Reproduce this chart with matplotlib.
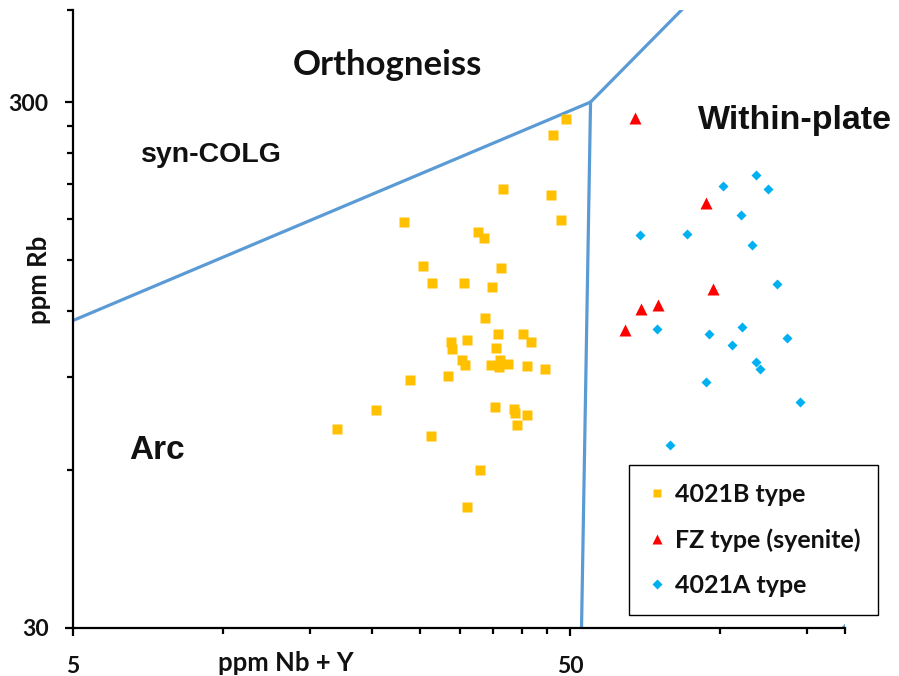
import matplotlib
matplotlib.use("Agg")
import matplotlib.pyplot as plt
from matplotlib.ticker import FixedLocator, FixedFormatter, NullFormatter

# ---------------- data (ppm Nb+Y, ppm Rb) ----------------
b_nby = [49.2, 46.2, 36.7, 45.7, 48.0, 23.2, 32.7, 33.5, 25.3, 36.3, 26.4, 30.6, 34.9,
         33.8, 35.9, 40.3, 31.0, 28.8, 41.8, 29.0, 35.5, 30.3, 30.8, 34.6, 36.2, 36.0,
         37.5, 41.0, 44.5, 28.4, 23.8, 20.4, 35.3, 38.6, 38.7, 41.0, 39.2, 17.0, 26.3,
         32.9, 31.0]
b_rb = [278.5, 259.7, 204.7, 200.0, 179.0, 177.7, 169.6, 165.4, 146.3, 145.3, 135.9, 135.9, 133.5,
        116.8, 108.7, 108.7, 105.8, 104.9, 104.8, 101.9, 102.1, 97.0, 94.9, 94.9, 97.0, 94.2,
        95.4, 94.4, 93.1, 90.3, 88.7, 78.0, 78.9, 78.2, 76.9, 76.1, 72.9, 71.8, 69.5,
        59.9, 51.0]

fz_nby = [67.6, 93.9, 97.1, 69.5, 75.2, 64.5]
fz_rb = [279.3, 192.5, 132.5, 121.4, 123.2, 110.6]

a_nby = [118.4, 101.6, 125.1, 110.3, 69.2, 86.1, 116.2, 130.3, 74.7, 95.1, 111.0, 106.1,
         136.6, 118.4, 120.6, 94.0, 145.0, 79.4]
a_rb = [218.2, 208.0, 205.3, 183.2, 167.8, 168.5, 160.2, 135.1, 110.9, 108.5, 112.1, 103.5,
        106.9, 96.3, 93.4, 88.2, 80.8, 66.8]

series_labels = ["4021B type", "FZ type (syenite)", "4021A type"]

# Pearce et al. (1984) field boundaries
bnd_syncolg_x = [2, 55]
bnd_syncolg_y = [80, 300]
bnd_org_up_x = [55, 400]
bnd_org_up_y = [300, 2000]
bnd_vag_wpg_x = [55, 51.5]
bnd_vag_wpg_y = [300, 8]
bnd_org_low_x = [51.5, 2000]
bnd_org_low_y = [8, 400]

x_major = [5, 50]
x_major_labels = ["5", "50"]
x_minor = [10, 15, 20, 25, 30, 35, 40, 45, 100, 150]
y_major = [30, 300]
y_major_labels = ["30", "300"]
y_minor = [60, 90, 120, 150, 180, 210, 240, 270]

XMIN, XMAX = 5, 178.8
YMIN, YMAX = 30, 449

# ---------------- figure ----------------
W, H = 899, 676
fig = plt.figure(figsize=(W / 100, H / 100), dpi=100)
ax = fig.add_axes([73 / W, 1 - 628 / H, (845 - 73) / W, (628 - 10) / H])
ax.set_xscale("log")
ax.set_yscale("log")
ax.set_xlim(XMIN, XMAX)
ax.set_ylim(YMIN, YMAX)

line_kw = dict(color="#5B9BD5", lw=2.3, solid_capstyle="round", zorder=2)
for bx, by in [(bnd_syncolg_x, bnd_syncolg_y), (bnd_org_up_x, bnd_org_up_y),
               (bnd_vag_wpg_x, bnd_vag_wpg_y), (bnd_org_low_x, bnd_org_low_y)]:
    ax.plot(bx, by, **line_kw)

ax.plot(b_nby, b_rb, ls="none", marker="s", ms=6.6, color="#FFC000", mec="none",
        label=series_labels[0], zorder=3)
ax.plot(fz_nby, fz_rb, ls="none", marker="^", ms=8.5, color="#FF0000", mec="none",
        label=series_labels[1], zorder=3)
ax.plot(a_nby, a_rb, ls="none", marker="D", ms=5.6, color="#00B0F0", mec="none",
        label=series_labels[2], zorder=3)

calibri = dict(family="Lato", weight="bold")
arial = dict(family="Liberation Sans", weight="bold")

# axes styling
for s in ["top", "right"]:
    ax.spines[s].set_visible(False)
for s in ["left", "bottom"]:
    ax.spines[s].set_linewidth(1.6)
    ax.spines[s].set_color("black")

ax.xaxis.set_major_locator(FixedLocator(x_major))
ax.xaxis.set_major_formatter(FixedFormatter(x_major_labels))
ax.xaxis.set_minor_locator(FixedLocator(x_minor + [XMAX]))
ax.xaxis.set_minor_formatter(NullFormatter())
ax.yaxis.set_major_locator(FixedLocator(y_major))
ax.yaxis.set_major_formatter(FixedFormatter(y_major_labels))
ax.yaxis.set_minor_locator(FixedLocator(y_minor + [YMAX]))
ax.yaxis.set_minor_formatter(NullFormatter())

ax.tick_params(which="major", direction="out", length=5.5, width=1.6, color="black")
ax.tick_params(which="minor", direction="out", length=4, width=1.6, color="black")
ax.tick_params(axis="x", which="major", pad=15)
ax.tick_params(axis="y", which="major", pad=12)
for lab in ax.get_xticklabels() + ax.get_yticklabels():
    lab.set_fontfamily("Lato")
    lab.set_fontweight("bold")
    lab.set_fontsize(16.5)
    lab.set_color("#111111")

# axis titles
fig.text(286 / W, 1 - 671 / H, "ppm Nb + Y", ha="center", va="baseline",
         fontsize=18.5, color="#111111", **calibri)
fig.text(47 / W, 1 - 280 / H, "ppm Rb", ha="center", va="baseline", rotation=90,
         fontsize=18.5, color="#111111", rotation_mode="anchor", **calibri)

# field labels
ax.text(21.5, 352.8, "Orthogneiss", ha="center", va="center", fontsize=25, color="#111111", **calibri)
ax.text(9.5, 237.9, "syn-COLG", ha="center", va="center", fontsize=20.5, color="#111111", **arial)
ax.text(141.8, 277.3, "Within-plate", ha="center", va="center", fontsize=24.5, color="#111111",
        clip_on=False, **arial)
ax.text(7.38, 65.4, "Arc", ha="center", va="center", fontsize=24, color="#111111", **arial)

leg = ax.legend(loc="upper left", bbox_to_anchor=(629 / W, 1 - 465 / H),
                bbox_transform=fig.transFigure, frameon=True, fancybox=False,
                prop=dict(family="Lato", weight="bold", size=18),
                handlelength=0.8, handletextpad=0.35, borderpad=0.7,
                labelspacing=0.9, borderaxespad=0, markerscale=0.85)
leg.get_frame().set_edgecolor("black")
leg.get_frame().set_linewidth(1.0)
leg.get_frame().set_facecolor("white")
leg.get_frame().set_alpha(1)
for t in leg.get_texts():
    t.set_color("#111111")

fig.savefig("out.png", dpi=100)
